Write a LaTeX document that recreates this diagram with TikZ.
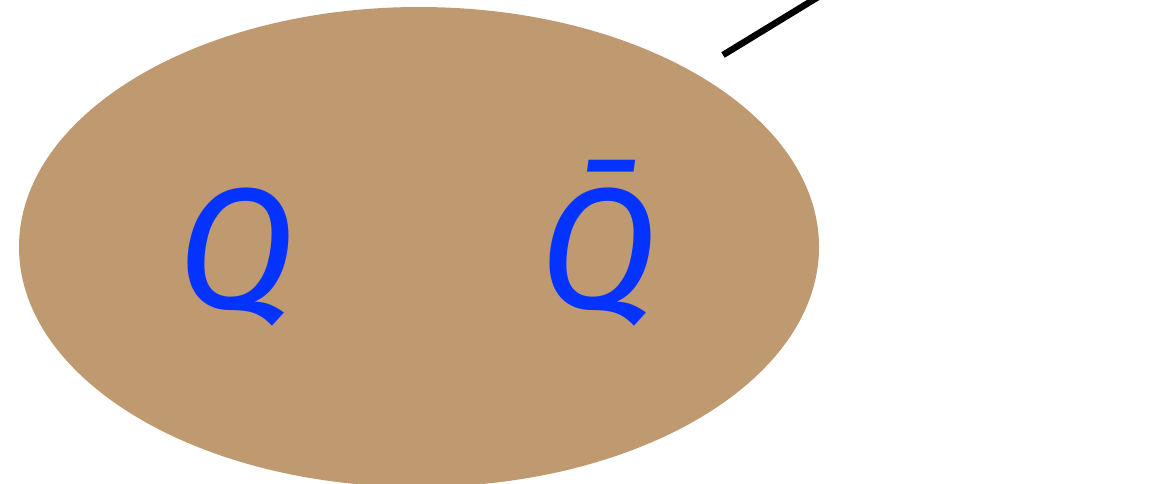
\documentclass[tikz,border=0pt]{standalone}
\usepackage{fontspec}
\setmainfont{Fira Sans}
\definecolor{tan}{HTML}{BF9970}
\definecolor{qblue}{HTML}{0433FF}
\tikzset{
  quark/.style={text=qblue, font=\fontsize{172}{172}\selectfont\itshape, inner sep=0pt, anchor=base},
  blob/.style={fill=tan, draw=none},
  stick/.style={draw=black, line width=6.5pt},
}
\begin{document}
\begin{tikzpicture}[x=1pt,y=-1pt]
\useasboundingbox (0,0) rectangle (1176,483);
\path[blob] (419,247) ellipse [x radius=400, y radius=240];
\node[quark] (q) at (236,308) {Q};
\node[quark] (qb) at (598,308) {Q\char"0304};
\coordinate (l1) at (723,55);
\coordinate (l2) at (823,-6);
\draw[stick] (l1) -- (l2);
\end{tikzpicture}
\end{document}
